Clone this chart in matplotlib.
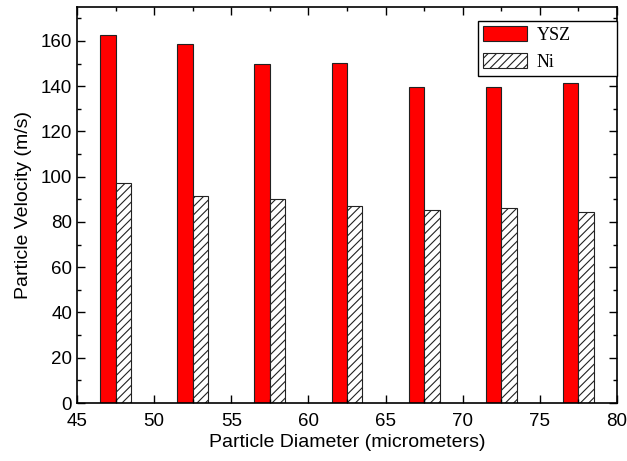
import numpy as np
import matplotlib
matplotlib.use('Agg')
import matplotlib.pyplot as plt
from matplotlib.ticker import MultipleLocator

# particle diameter (micrometers)
diameter = [47, 52, 57, 62, 67, 72, 77]
ysz = [162.5, 158.5, 150, 150.4, 139.6, 139.6, 141.6]
ni = [97.3, 91.5, 90.2, 87.0, 85.5, 86.0, 84.5]

plt.rcParams['font.family'] = ['Liberation Sans', 'DejaVu Sans']
plt.rcParams['hatch.color'] = '#555555'
plt.rcParams['hatch.linewidth'] = 0.8

fig = plt.figure(figsize=(6.27, 4.61), dpi=100)
ax = fig.add_axes([0.1228, 0.1258, 0.8612, 0.859])

x = np.array(diameter)
ax.bar(x, ysz, width=1.0, color='#ff0000', edgecolor='#222222', linewidth=0.8, label='YSZ')
ax.bar(x + 1.0, ni, width=1.0, color='white', edgecolor='#222222', linewidth=0.8,
       hatch='////', label='Ni')

ax.set_xlim(45, 80)
ax.set_ylim(0, 175)
ax.xaxis.set_major_locator(MultipleLocator(5))
ax.xaxis.set_minor_locator(MultipleLocator(2.5))
ax.yaxis.set_major_locator(MultipleLocator(20))
ax.yaxis.set_minor_locator(MultipleLocator(10))
ax.tick_params(which='both', direction='in', top=True, right=True, labelsize=13.5, width=1)
ax.tick_params(which='major', length=6)
ax.tick_params(which='minor', length=3)
ax.tick_params(axis='x', which='major', pad=7)
for s in ax.spines.values():
    s.set_linewidth(1.2)

ax.set_xlabel('Particle Diameter (micrometers)', fontsize=14, labelpad=3)
ax.set_ylabel('Particle Velocity (m/s)', fontsize=14, labelpad=6)

leg = ax.legend(loc='upper left', bbox_to_anchor=(0.7426, 0.9646, 0.2574, 0.0), mode='expand',
                fancybox=False, edgecolor='black', framealpha=1,
                handlelength=2.4, handleheight=0.9, handletextpad=0.55,
                labelspacing=0.5, borderpad=0.3,
                prop={'family': 'Liberation Serif', 'size': 13}, borderaxespad=0)
leg.get_frame().set_linewidth(1.0)

fig.savefig('out.png', dpi=100)
